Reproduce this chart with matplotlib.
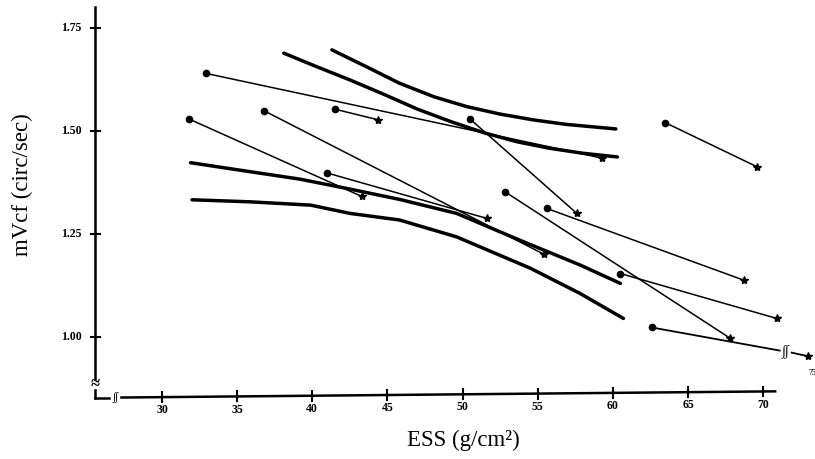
import numpy as np
import matplotlib
matplotlib.use("Agg")
import matplotlib.pyplot as plt

plt.rcParams['font.family'] = ['Liberation Serif', 'DejaVu Serif']

# paired measurements: dot = start, star = end  (ESS g/cm2, mVcf circ/sec)
ess_start = [32.9, 41.5, 31.8, 36.8, 41.0, 50.5, 52.8, 55.6, 63.5, 60.5]
ess_end = [59.3, 44.4, 43.3, 55.4, 51.6, 57.6, 67.8, 68.7, 69.6, 70.9]
vcf_start = [1.640, 1.553, 1.529, 1.549, 1.398, 1.529, 1.353, 1.312, 1.520, 1.154]
vcf_end = [1.434, 1.527, 1.341, 1.201, 1.288, 1.300, 0.997, 1.138, 1.413, 1.045]

# the one pair that runs past the axis break
brk_start = (62.6, 1.023)
brk_cut = (71.1, 0.967)
brk_resume = (71.9, 0.962)
brk_end = (73.0, 0.953)

# normal-range bands (thick curves)
band1_x = [38.1, 40.3, 42.5, 44.7, 47.0, 49.2, 51.4, 53.6, 55.8, 58.0, 60.3]
band1_y = [1.689, 1.656, 1.624, 1.590, 1.553, 1.523, 1.496, 1.474, 1.458, 1.446, 1.437]
band2_x = [41.3, 43.6, 45.8, 48.1, 50.3, 52.5, 54.7, 56.9, 60.2]
band2_y = [1.697, 1.656, 1.616, 1.583, 1.559, 1.541, 1.527, 1.516, 1.505]
band3_x = [31.9, 35.9, 39.2, 42.5, 45.8, 49.6, 53.8, 57.8, 60.5]
band3_y = [1.423, 1.401, 1.383, 1.359, 1.334, 1.300, 1.235, 1.175, 1.130]
band4_x = [32.0, 35.9, 39.9, 42.5, 45.8, 49.6, 54.5, 57.8, 60.7]
band4_y = [1.333, 1.328, 1.320, 1.300, 1.284, 1.243, 1.167, 1.106, 1.045]

xticks = [30, 35, 40, 45, 50, 55, 60, 65, 70]
yticks = [1.00, 1.25, 1.50, 1.75]

fig = plt.figure(figsize=(8.15, 4.59), dpi=100)
ax = fig.add_axes([95 / 815, 1 - 400 / 459, 720 / 815, 393 / 459])
x0, x1 = 25.54, 73.45
y0, y1 = 0.847, 1.801
ax.set_xlim(x0, x1)
ax.set_ylim(y0, y1)
ax.axis('off')

k = 'black'
for bx, by in [(band1_x, band1_y), (band2_x, band2_y), (band3_x, band3_y), (band4_x, band4_y)]:
    ax.plot(bx, by, color=k, lw=2.5, solid_capstyle='round', solid_joinstyle='round')

for xs, xe, ys, ye in zip(ess_start, ess_end, vcf_start, vcf_end):
    ax.plot([xs, xe], [ys, ye], color=k, lw=1.1)
    ax.plot(xs, ys, 'o', color=k, ms=4.5)
    ax.plot(xe, ye, '*', color=k, ms=6)

ax.plot([brk_start[0], brk_cut[0]], [brk_start[1], brk_cut[1]], color=k, lw=1.3)
ax.plot([brk_resume[0], brk_end[0]], [brk_resume[1], brk_end[1]], color=k, lw=1.3)
ax.plot(*brk_start, 'o', color=k, ms=4.5)
ax.plot(*brk_end, '*', color=k, ms=6, clip_on=False)
ax.text((brk_cut[0] + brk_resume[0]) / 2, (brk_cut[1] + brk_resume[1]) / 2, '\u222B\u222B',
        ha='center', va='center', fontsize=10, fontstyle='italic', fontweight='bold')
ax.text(brk_end[0] + 0.05, brk_end[1] - 0.04, '75', fontsize=5.5, ha='left', va='center',
        clip_on=False)

# y axis with break
ya = x0
ax.plot([ya, ya], [0.897, y1], color=k, lw=1.8, clip_on=False)
ax.plot([ya, ya], [0.853, 0.872], color=k, lw=1.8, clip_on=False)
ax.text(ya, 0.885, '\u2248', ha='center', va='center', fontsize=12, fontweight='bold')
xa = 0.853
ax.plot([ya, 26.5], [xa, xa], color=k, lw=1.8, clip_on=False)
ax.text(26.9, xa, '\u222B\u222B', ha='center', va='center', fontsize=8, fontstyle='italic',
        fontweight='bold')
ax.plot([27.3, 70.8], [xa, xa + 0.015], color=k, lw=1.8, clip_on=False)

for v in yticks:
    ax.plot([ya - 0.25, ya + 0.35], [v, v], color=k, lw=1.5, clip_on=False)
    ax.text(ya - 0.9, v, f'{v:.2f}', ha='right', va='center', fontsize=8.5, fontweight='bold')

for v in xticks:
    yy = xa + (v - 27.3) / (70.8 - 27.3) * 0.015
    ax.plot([v, v], [yy - 0.012, yy + 0.012], color=k, lw=1.5, clip_on=False)
    ax.text(v, yy - 0.032, str(v), ha='center', va='center', fontsize=8.5, fontweight='bold')

fig.text(463 / 815, 1 - 440 / 459, 'ESS (g/cm\u00b2)', ha='center', va='center', fontsize=16.5)
fig.text(22 / 815, 1 - 185 / 459, 'mVcf (circ/sec)', ha='center', va='center', fontsize=16.5,
         rotation=90)

fig.savefig('out.png', dpi=100)
